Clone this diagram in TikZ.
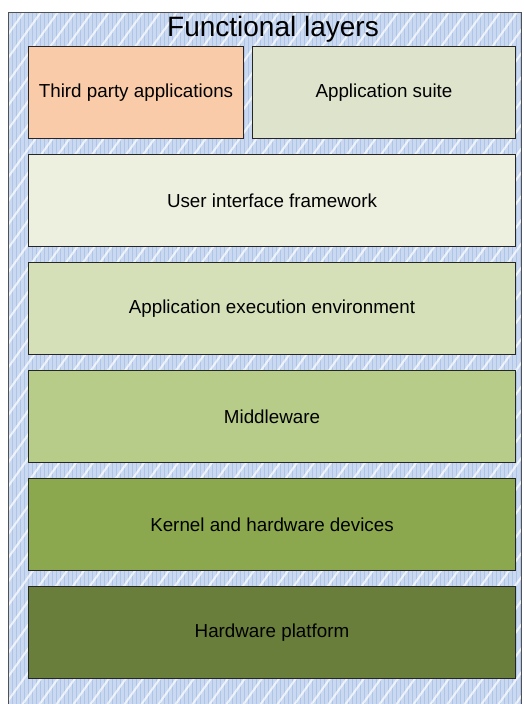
\documentclass[tikz,border=0pt]{standalone}
\usepackage{fontspec}
\setmainfont{Liberation Sans}
\definecolor{frameblue}{HTML}{CAD9F0}
\definecolor{gridblue}{HTML}{AEC4E8}
\definecolor{edge}{HTML}{262626}
\definecolor{peach}{HTML}{FACBA8}
\definecolor{suite}{HTML}{DEE3CC}
\definecolor{uif}{HTML}{EDF0DF}
\definecolor{aee}{HTML}{D5E0B9}
\definecolor{mid}{HTML}{B8CC8A}
\definecolor{kern}{HTML}{8CA84E}
\definecolor{hwp}{HTML}{6A7E3B}
\tikzset{
  layer/.style={draw=edge, line width=1pt, minimum height=92pt, inner sep=0pt,
    text=black, anchor=north west},
  label/.style={font=\fontsize{18.8}{21}\selectfont},
}
\begin{document}
\begin{tikzpicture}[x=1pt, y=-1pt]
  \useasboundingbox (0,0) rectangle (523,704);
  % hatched frame
  \begin{scope}
    \clip (8.5,12.5) rectangle (521.5,712);
    \fill[frameblue] (8.5,12.5) rectangle (521.5,712);
    \draw[gridblue, line width=0.3pt] (8.5,12.5) grid[step=4] (521.5,712);
    \foreach \i in {-45,...,40}
      \draw[white, line width=2pt, opacity=0.7] (\i*17, 712) -- ++(500, -700);
  \end{scope}
  \draw[edge!80, line width=1pt] (8.5,712) -- (8.5,12.5) -- (521.5,12.5) -- (521.5,712);
  % title
  \node[font=\fontsize{28}{30}\selectfont] (title) at (273,29) {Functional layers};
  % layers
  \node[layer, fill=peach, minimum width=215pt] (third) at (28,46) {};
  \node[label] at (third.center) {Third party applications};
  \node[layer, fill=suite, minimum width=263pt] (suite) at (252,46) {};
  \node[label] at (suite.center) {Application suite};
  \node[layer, fill=uif, minimum width=487pt] (ui) at (28,154) {};
  \node[label] at (ui.center) {User interface framework};
  \node[layer, fill=aee, minimum width=487pt] (aee) at (28,262) {};
  \node[label] at (aee.center) {Application execution environment};
  \node[layer, fill=mid, minimum width=487pt] (mid) at (28,370) {};
  \node[label] at (mid.center) {Middleware};
  \node[layer, fill=kern, minimum width=487pt] (kern) at (28,478) {};
  \node[label] at (kern.center) {Kernel and hardware devices};
  \node[layer, fill=hwp, minimum width=487pt] (hw) at (28,586) {};
  \node[label] at (hw.center) {Hardware platform};
\end{tikzpicture}
\end{document}
